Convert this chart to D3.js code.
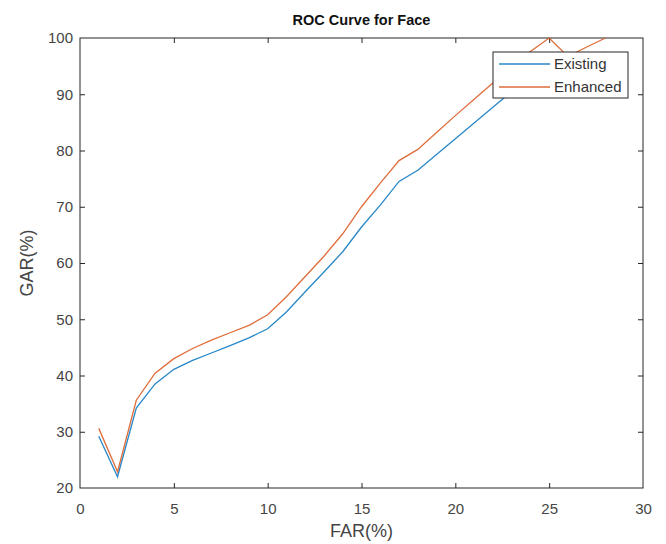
<!DOCTYPE html>
<html>
<head>
<meta charset="utf-8">
<script src="https://cdn.jsdelivr.net/npm/d3@7"></script>
<style>
  body { margin: 0; background: #fff; }
  svg text { font-family: "Liberation Sans", Arial, sans-serif; }
</style>
</head>
<body>
<div id="chart"></div>
<script>
// FAR values (x) and GAR values for each method
var far = [1, 2, 3, 4, 5, 6, 7, 8, 9, 10, 11, 12, 13, 14, 15, 16, 17, 18, 19, 20, 21, 22, 23, 24, 25, 26, 27, 28];
var existing = [29.2, 22.0, 34.2, 38.5, 41.1, 42.7, 44.0, 45.3, 46.7, 48.3, 51.3, 54.9, 58.4, 62.0, 66.4, 70.3, 74.5, 76.5, 79.3, 82.1, 84.9, 87.7, 90.5, 93.0, 95.5, 94.5, 96.0, 97.5];
var enhanced = [30.6, 22.9, 35.6, 40.4, 43.0, 44.8, 46.3, 47.6, 48.9, 50.8, 54.0, 57.6, 61.2, 65.2, 70.0, 74.2, 78.2, 80.2, 83.2, 86.2, 89.1, 92.0, 95.0, 97.6, 100, 96.7, 98.4, 100];
var seriesNames = ["Existing", "Enhanced"];
var seriesColors = ["#0072BD", "#D95319"];
var xTicks = [0, 5, 10, 15, 20, 25, 30];
var yTicks = [20, 30, 40, 50, 60, 70, 80, 90, 100];

var width = 666, height = 544;
var margin = { top: 38, right: 23, bottom: 56, left: 80 };
var innerW = width - margin.left - margin.right;
var innerH = height - margin.top - margin.bottom;

var svg = d3.select("#chart").append("svg")
  .attr("width", width)
  .attr("height", height);

var x = d3.scaleLinear().domain([0, 30]).range([margin.left, margin.left + innerW]);
var y = d3.scaleLinear().domain([20, 100]).range([margin.top + innerH, margin.top]);

var axisColor = "#262626";
var tickLen = 5;

// Axes with inward ticks (matlab style)
function styleAxis(g) {
  g.select(".domain").remove();
  g.selectAll(".tick line").attr("stroke", axisColor);
  g.selectAll(".tick text").attr("fill", "#454545").attr("font-size", 15);
}

svg.append("g")
  .attr("transform", `translate(0,${y(20)})`)
  .call(d3.axisBottom(x).tickValues(xTicks).tickSizeInner(-tickLen).tickSizeOuter(0).tickPadding(15))
  .call(styleAxis)
  .call(g => g.selectAll(".tick").filter(d => d === 0 || d === 30).select("line").remove());

svg.append("g")
  .attr("transform", `translate(0,${y(100)})`)
  .call(d3.axisTop(x).tickValues(xTicks).tickSizeInner(-tickLen).tickSizeOuter(0).tickFormat(""))
  .call(styleAxis)
  .call(g => g.selectAll(".tick").filter(d => d === 0 || d === 30).select("line").remove());

svg.append("g")
  .attr("transform", `translate(${x(0)},0)`)
  .call(d3.axisLeft(y).tickValues(yTicks).tickSizeInner(-tickLen).tickSizeOuter(0).tickPadding(7))
  .call(styleAxis)
  .call(g => g.selectAll(".tick").filter(d => d === 20 || d === 100).select("line").remove());

svg.append("g")
  .attr("transform", `translate(${x(30)},0)`)
  .call(d3.axisRight(y).tickValues(yTicks).tickSizeInner(-tickLen).tickSizeOuter(0).tickFormat(""))
  .call(styleAxis)
  .call(g => g.selectAll(".tick").filter(d => d === 20 || d === 100).select("line").remove());

// Box
svg.append("rect")
  .attr("x", x(0)).attr("y", y(100))
  .attr("width", x(30) - x(0)).attr("height", y(20) - y(100))
  .attr("fill", "none").attr("stroke", axisColor).attr("stroke-width", 1);

// Lines
var line = d3.line()
  .x((d, i) => x(far[i]))
  .y(d => y(d));

[existing, enhanced].forEach(function(vals, k) {
  svg.append("path")
    .datum(vals)
    .attr("fill", "none")
    .attr("stroke", seriesColors[k])
    .attr("stroke-width", 1.3)
    .attr("opacity", 0.85)
    .attr("d", line);
});

// Title and labels
svg.append("text")
  .attr("x", (x(0) + x(30)) / 2).attr("y", 25)
  .attr("text-anchor", "middle")
  .attr("font-size", 14.5).attr("font-weight", "bold")
  .attr("fill", "#111")
  .text("ROC Curve for Face");

svg.append("text")
  .attr("x", (x(0) + x(30)) / 2).attr("y", 537)
  .attr("text-anchor", "middle")
  .attr("font-size", 18).attr("fill", "#454545")
  .text("FAR(%)");

svg.append("text")
  .attr("transform", `translate(33,${(y(20) + y(100)) / 2}) rotate(-90)`)
  .attr("text-anchor", "middle")
  .attr("font-size", 18).attr("fill", "#454545")
  .text("GAR(%)");

// Legend
var legend = svg.append("g").attr("transform", "translate(493,52)");
legend.append("rect")
  .attr("width", 135).attr("height", 46)
  .attr("fill", "#fff").attr("stroke", axisColor).attr("stroke-width", 1);

seriesNames.forEach(function(name, k) {
  var ly = 12 + k * 23;
  legend.append("line")
    .attr("x1", 6).attr("x2", 57).attr("y1", ly).attr("y2", ly)
    .attr("stroke", seriesColors[k]).attr("stroke-width", 1.3).attr("opacity", 0.85);
  legend.append("text")
    .attr("x", 61).attr("y", ly + 5)
    .attr("font-size", 15).attr("fill", "#333")
    .text(name);
});
</script>
</body>
</html>
